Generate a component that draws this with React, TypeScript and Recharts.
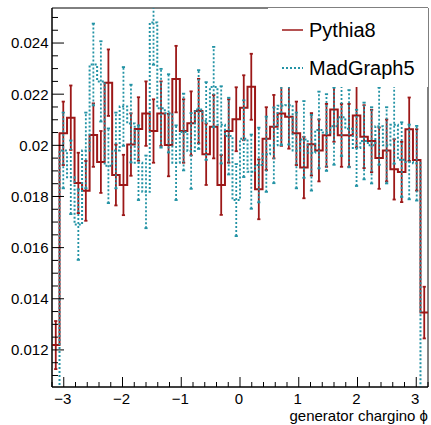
import React from 'react';
import { ComposedChart, Line, XAxis, YAxis, ReferenceArea, ReferenceLine, Legend } from 'recharts';

const X_MIN = -3.2;
const X_MAX = 3.2;
const Y_MIN = 0.01055;
const Y_MAX = 0.02537;

const pythia8 = [
  0.01219, 0.02047, 0.02108, 0.01853, 0.01822, 0.0204, 0.01935, 0.02245, 0.01884, 0.01845,
  0.02003, 0.02064, 0.02124, 0.02056, 0.02124, 0.02001, 0.02259, 0.02056, 0.02086, 0.02134,
  0.01965, 0.02073, 0.01845, 0.02056, 0.02102, 0.02147, 0.02229, 0.01828, 0.02026, 0.02073,
  0.02124, 0.02112, 0.02047, 0.01913, 0.02004, 0.0198, 0.02039, 0.0214, 0.02039, 0.02039,
  0.02117, 0.02034, 0.02017, 0.0195, 0.0198, 0.01906, 0.01896, 0.02063, 0.01943, 0.01346,
];
const pythia8Err = [
  0.00094, 0.00124, 0.00126, 0.00118, 0.00117, 0.00124, 0.00121, 0.0013, 0.00119, 0.00118,
  0.00122, 0.00124, 0.00126, 0.00124, 0.00126, 0.00122, 0.0013, 0.00124, 0.00125, 0.00126,
  0.0012, 0.00124, 0.00117, 0.00124, 0.00125, 0.00127, 0.00129, 0.00117, 0.00123, 0.00124,
  0.00126, 0.00125, 0.00124, 0.0012, 0.00122, 0.00121, 0.00123, 0.00126, 0.00123, 0.00123,
  0.00125, 0.00123, 0.00122, 0.0012, 0.00121, 0.00118, 0.00118, 0.00124, 0.0012, 0.00101,
];
const madgraph5 = [
  0.0092, 0.0198, 0.01875, 0.0169, 0.0198, 0.02316, 0.0225, 0.0192, 0.0198, 0.02152,
  0.02085, 0.01932, 0.01818, 0.0248, 0.02145, 0.02125, 0.01932, 0.02052, 0.01978, 0.0214,
  0.02095, 0.02228, 0.0208, 0.02036, 0.01786, 0.02026, 0.01897, 0.01923, 0.01965, 0.02,
  0.02155, 0.02157, 0.0198, 0.02023, 0.01971, 0.0206, 0.0205, 0.02075, 0.0211, 0.02065,
  0.0199, 0.02017, 0.02, 0.02075, 0.02, 0.0208, 0.01944, 0.01935, 0.0193, 0.009,
];
const madgraph5Err = [
  0.0011, 0.00148, 0.00144, 0.00138, 0.00148, 0.0016, 0.00157, 0.00146, 0.00148, 0.00154,
  0.00152, 0.00146, 0.00142, 0.00165, 0.00154, 0.00153, 0.00146, 0.0015, 0.00148, 0.00154,
  0.00152, 0.00157, 0.00151, 0.0015, 0.00141, 0.0015, 0.00145, 0.00146, 0.00147, 0.00148,
  0.00154, 0.00154, 0.00148, 0.0015, 0.00148, 0.0015, 0.0015, 0.00151, 0.00152, 0.00151,
  0.00149, 0.0015, 0.00149, 0.00151, 0.00149, 0.00152, 0.00146, 0.00146, 0.00146, 0.0011,
];

const xMajorTicks = [-3, -2, -1, 0, 1, 2, 3];
const xMajorLabels = ['\u22123', '\u22122', '\u22121', '0', '1', '2', '3'];
const yMajorTicks = [0.012, 0.014, 0.016, 0.018, 0.02, 0.022, 0.024];
const yMajorLabels = ['0.012', '0.014', '0.016', '0.018', '0.02', '0.022', '0.024'];

const seriesNames = ['Pythia8', 'MadGraph5'];
const PY_COLOR = '#9c1818';
const MG_COLOR = '#2393a5';
const FONT = '"Liberation Sans", Arial, Helvetica, sans-serif';

const N_BINS = pythia8.length;
const BIN_W = (X_MAX - X_MIN) / N_BINS;

const xTicks = Array.from({ length: 33 }, (_, k) => Math.round((X_MIN + k * 0.2) * 10) / 10);
const yTicks = Array.from({ length: 29 }, (_, k) => +(0.011 + k * 0.0005).toFixed(4));

const stepData = (vals: number[]) => [
  ...vals.map((v, i) => ({ x: X_MIN + i * BIN_W, y: v })),
  { x: X_MAX, y: vals[vals.length - 1] },
];
const errData = (vals: number[], errs: number[]) =>
  vals.map((v, i) => ({ x: X_MIN + (i + 0.5) * BIN_W, lo: v - errs[i], hi: v + errs[i] }));

const pyStep = stepData(pythia8);
const mgStep = stepData(madgraph5);
const pyErr = errData(pythia8, pythia8Err);
const mgErr = errData(madgraph5, madgraph5Err);

const findIdx = (arr: number[], v: number) => arr.findIndex((t) => Math.abs(t - v) < 1e-9);

const YTick = (props: any) => {
  const { x, y, payload } = props;
  const idx = findIdx(yMajorTicks, payload.value);
  const major = idx >= 0;
  return (
    <g>
      <line x1={x} x2={x + (major ? 12 : 6)} y1={y} y2={y} stroke="#000" strokeWidth={1} />
      {major && (
        <text x={x - 3.5} y={y + 5.4} textAnchor="end" fontSize={15} fontFamily={FONT} fill="#000">
          {yMajorLabels[idx]}
        </text>
      )}
    </g>
  );
};

const XTick = (props: any) => {
  const { x, y, payload } = props;
  const idx = findIdx(xMajorTicks, payload.value);
  const major = idx >= 0;
  return (
    <g>
      <line x1={x} x2={x} y1={y} y2={y - (major ? 10 : 5)} stroke="#000" strokeWidth={1} />
      {major && (
        <text x={x - 1} y={y + 17} textAnchor="middle" fontSize={15} fontFamily={FONT} fill="#000">
          {xMajorLabels[idx]}
        </text>
      )}
    </g>
  );
};

const AxisTitle = (props: any) => {
  const vb = props.viewBox || { x: 52, y: 387, width: 376, height: 38 };
  return (
    <text x={vb.x + vb.width} y={vb.y + 34} textAnchor="end" fontSize={15} fontFamily={FONT} fill="#000">
      generator chargino {'\u03D5'}
    </text>
  );
};

const ErrShape = (props: any) => {
  const { x1, y1, x2, y2, stroke, strokeWidth, strokeDasharray, clipPath } = props;
  const cap = 1.6;
  return (
    <g clipPath={clipPath}>
      <line x1={x1} y1={y1} x2={x2} y2={y2} stroke={stroke} strokeWidth={strokeWidth} strokeDasharray={strokeDasharray} />
      <line x1={x1 - cap} y1={y1} x2={x1 + cap} y2={y1} stroke={stroke} strokeWidth={strokeWidth} />
      <line x1={x2 - cap} y1={y2} x2={x2 + cap} y2={y2} stroke={stroke} strokeWidth={strokeWidth} />
    </g>
  );
};

const renderLegend = () => (
  <svg width={160} height={79} style={{ display: 'block', background: '#fff' }}>
    <line x1={14} x2={35} y1={22} y2={22} stroke={PY_COLOR} strokeOpacity={0.75} strokeWidth={2} />
    <text x={41} y={29.3} fontSize={20} fontFamily={FONT} fill="#000">{seriesNames[0]}</text>
    <line x1={14} x2={35} y1={60} y2={60} stroke={MG_COLOR} strokeWidth={2} strokeDasharray="2 2" />
    <text x={41} y={67} fontSize={20} fontFamily={FONT} fill="#000">{seriesNames[1]}</text>
  </svg>
);

export default function App() {
  return (
    <div style={{ position: 'absolute', left: 0, top: 0, width: 431, height: 425, background: '#fff' }}>
      <ComposedChart width={431} height={425} margin={{ top: 8, right: 3, left: 0, bottom: 0 }}>
        <XAxis
          type="number"
          dataKey="x"
          domain={[X_MIN, X_MAX]}
          allowDataOverflow
          ticks={xTicks}
          interval={0}
          height={38}
          tickSize={0}
          tickMargin={0}
          tickLine={false}
          axisLine={{ stroke: '#000', strokeWidth: 1 }}
          tick={<XTick />}
          label={<AxisTitle />}
        />
        <YAxis
          type="number"
          dataKey="y"
          domain={[Y_MIN, Y_MAX]}
          allowDataOverflow
          ticks={yTicks}
          interval={0}
          width={52}
          tickSize={0}
          tickMargin={0}
          tickLine={false}
          axisLine={{ stroke: '#000', strokeWidth: 1 }}
          tick={<YTick />}
        />
        <ReferenceArea x1={X_MIN} x2={X_MAX} y1={Y_MIN} y2={Y_MAX} fill="none" stroke="#000" strokeWidth={1} />
        <Line
          data={pyStep}
          dataKey="y"
          type="stepAfter"
          stroke={PY_COLOR}
          strokeWidth={2}
          dot={false}
          activeDot={false}
          isAnimationActive={false}
        />
        {pyErr.map((d, i) => (
          <ReferenceLine
            key={`pe${i}`}
            segment={[{ x: d.x, y: d.lo }, { x: d.x, y: d.hi }]}
            ifOverflow="hidden"
            stroke={PY_COLOR}
            strokeWidth={1.8}
            shape={ErrShape}
          />
        ))}
        <Line
          data={mgStep}
          dataKey="y"
          type="stepAfter"
          stroke={MG_COLOR}
          strokeWidth={2}
          strokeDasharray="2 2"
          dot={false}
          activeDot={false}
          isAnimationActive={false}
        />
        {mgErr.map((d, i) => (
          <ReferenceLine
            key={`me${i}`}
            segment={[{ x: d.x, y: d.lo }, { x: d.x, y: d.hi }]}
            ifOverflow="hidden"
            stroke={MG_COLOR}
            strokeWidth={1.8}
            strokeDasharray="2 2"
            shape={ErrShape}
          />
        ))}
        <Legend
          layout="horizontal"
          align="center"
          verticalAlign="middle"
          content={renderLegend}
          wrapperStyle={{ left: 268, top: 8, width: 160, height: 79 }}
        />
      </ComposedChart>
    </div>
  );
}
